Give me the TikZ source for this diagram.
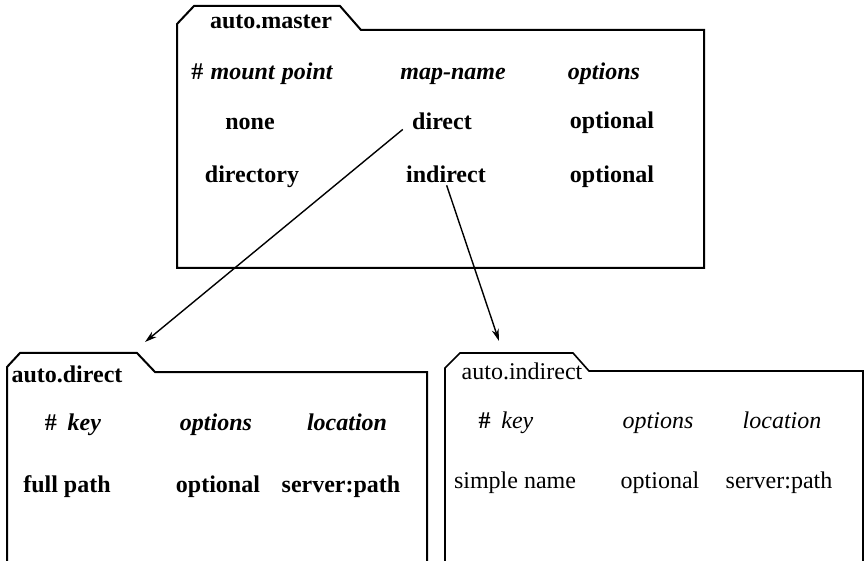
\documentclass[tikz,border=0pt]{standalone}
\usepackage{fontspec}
\setmainfont{Liberation Serif}
\usetikzlibrary{arrows.meta}
\newcommand\mapfont{\fontsize{24}{28}\selectfont}
\tikzset{
  lbl/.style={anchor=base, inner sep=0pt, font=\mapfont\bfseries},
  lblr/.style={anchor=base, inner sep=0pt, font=\mapfont},
  hdr/.style={anchor=base, inner sep=0pt, font=\mapfont\bfseries\itshape},
  hdrr/.style={anchor=base, inner sep=0pt, font=\mapfont\itshape},
  folder/.style={line width=2pt, line join=miter},
  link/.style={line width=1.4pt, -{Stealth[length=12pt,width=7pt]}},
}
\begin{document}
\begin{tikzpicture}[x=1pt, y=-1pt]
\useasboundingbox (0,0) rectangle (865,561);

% master map folder
\draw[folder] (177,268) -- (177,24) -- (194,6) -- (340,6) -- (361,30)
  -- (704,30) -- (704,268) -- cycle;
\node[lbl] (master) at (271,29) {auto.master};
\node[hdr] (mhkey) at (262,80) {\upshape\#\hspace{0.3em}\itshape mount\hspace{0.3em}point};
\node[hdr] (mhmap) at (453,80) {map-name};
\node[hdr] (mhopt) at (604,80) {options};
\node[lbl] (none) at (250,130) {none};
\node[lbl] (direct) at (442,130) {direct};
\node[lbl] (opt1) at (612,129) {optional};
\node[lbl] (dirry) at (252,183) {directory};
\node[lbl] (indirect) at (446,183) {indirect};
\node[lbl] (opt2) at (612,183) {optional};

% direct map folder
\draw[folder] (7,561) -- (7,367) -- (20,353) -- (137,353) -- (155,372)
  -- (427,372) -- (427,561);
\node[lbl] (dmap) at (67,382) {auto.direct};
\node[hdr] (dhkey) at (73,430) {\upshape\#\hspace{0.45em}\itshape key};
\node[hdr] (dhopt) at (216,430) {options};
\node[hdr] (dhloc) at (347,430) {location};
\node[lbl] (dkey) at (67,492) {full path};
\node[lbl] (dopt) at (218,492) {optional};
\node[lbl] (dloc) at (341,492) {server:path};

% indirect map folder
\draw[folder, line width=1.6pt] (445,561) -- (445,368) -- (460,353) -- (573,353)
  -- (589,371) -- (863,371) -- (863,561);
\node[lblr] (imap) at (522,380) {auto.indirect};
\node[hdrr] (ihkey) at (506,428) {\bfseries\upshape\#\hspace{0.45em}\mdseries\itshape key};
\node[hdrr] (ihopt) at (658,428) {options};
\node[hdrr] (ihloc) at (782,428) {location};
\node[lblr] (ikey) at (515,488) {simple name};
\node[lblr] (iopt) at (660,488) {optional};
\node[lblr] (iloc) at (779,488) {server:path};

% links from map names to the folders
\coordinate (dtip) at (145,342);
\coordinate (itip) at (499,341);
\draw[link, shorten <=12pt] (direct.west) -- (dtip);
\draw[link, shorten <=2pt] (indirect.south) -- (itip);
\end{tikzpicture}
\end{document}
